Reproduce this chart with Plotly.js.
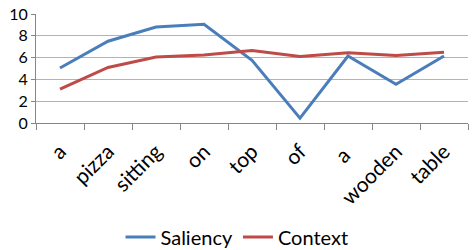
<!DOCTYPE html>
<html><head><meta charset="utf-8">
<script src="https://cdn.plot.ly/plotly-3.0.1.min.js"></script>
<style>html,body{margin:0;padding:0;background:#fff}#c{width:474px;height:250px}</style>
</head><body><div id="c"></div>
<script>
var words = ["a","pizza","sitting","on","top","of","a ","wooden","table"];
var saliency = [5.05, 7.5, 8.8, 9.05, 5.75, 0.45, 6.15, 3.55, 6.15];
var context = [3.1, 5.1, 6.05, 6.25, 6.65, 6.1, 6.45, 6.2, 6.5];
var yTicks = [0,2,4,6,8,10];
var F = "Lato, 'Open Sans', sans-serif";
Plotly.newPlot('c', [
  {x: words, y: saliency, name: "Saliency", type: "scatter", mode: "lines", line: {color: "#4a7ebb", width: 3}},
  {x: words, y: context, name: "Context", type: "scatter", mode: "lines", line: {color: "#be4b48", width: 3}}
], {
  width: 474, height: 250,
  margin: {l: 36, r: 6, t: 14, b: 127, autoexpand: false},
  paper_bgcolor: "#fff", plot_bgcolor: "#fff",
  font: {family: F, size: 17, color: "#000"},
  showlegend: true,
  legend: {orientation: "h", xref: "container", x: 0.5, xanchor: "center", y: -1.046, yanchor: "middle", font: {size: 20}, itemwidth: 30},
  xaxis: {type: "category", range: [-0.5, 8.5], tickangle: -45, tickson: "boundaries", ticks: "outside", ticklen: 6, tickcolor: "#868686", showline: true, linecolor: "#868686", linewidth: 1, showgrid: false, fixedrange: true, automargin: false, tickfont: {size: 21}, ticklabelstandoff: 7},
  yaxis: {range: [0, 10], tickvals: yTicks, ticks: "outside", ticklen: 4, tickcolor: "#868686", showline: true, linecolor: "#868686", linewidth: 1, gridcolor: "#b3b3b3", zeroline: false, fixedrange: true, automargin: false, tickfont: {size: 16}}
}, {displayModeBar: false, staticPlot: true});
</script></body></html>
